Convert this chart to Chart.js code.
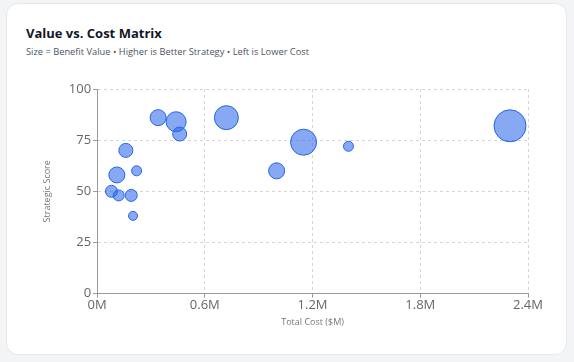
<!DOCTYPE html>
<html>
<head>
<meta charset="utf-8">
<script src="https://cdn.jsdelivr.net/npm/chart.js@4.4.1/dist/chart.umd.min.js"></script>
<style>
  html, body { margin: 0; padding: 0; background: #f3f4f6; width: 574px; height: 362px; overflow: hidden; }
  .card {
    position: absolute; left: 6px; top: 3px; width: 561px; height: 352px;
    background: #fff; border: 1px solid #e6e8ec; border-radius: 12px; box-sizing: border-box;
    font-family: "Open Sans", sans-serif;
  }
  .card h3 { position: absolute; left: 19px; top: 20px; margin: 0; font-size: 13px; font-weight: 700; color: #111827; }
  .card p { position: absolute; left: 19px; top: 41px; margin: 0; font-size: 9.3px; color: #4b5563; }
  .wrap { position: absolute; left: 31px; top: 68px; width: 507px; height: 260px; }
</style>
</head>
<body>
<div class="card">
  <h3>Value vs. Cost Matrix</h3>
  <p>Size = Benefit Value • Higher is Better Strategy • Left is Lower Cost</p>
  <div class="wrap"><canvas id="matrix"></canvas></div>
</div>
<script>
// total cost in dollars, strategic score 0-100, bubble radius from benefit value
const costs = [340000, 440000, 460000, 720000, 160000, 110000, 220000, 80000, 120000, 190000, 200000, 1000000, 1150000, 1400000, 2300000];
const scores = [86, 84, 78, 86, 70, 58, 60, 50, 48, 48, 38, 60, 74, 72, 82];
const benefitRadius = [8, 10, 7, 12, 7, 8, 5, 6, 5.5, 6, 4.5, 8, 13, 5, 16];
const xTicks = [0, 600000, 1200000, 1800000, 2400000];

const points = costs.map((c, i) => ({ x: c, y: scores[i], r: benefitRadius[i] }));

new Chart(document.getElementById("matrix"), {
  type: "bubble",
  data: {
    datasets: [{
      data: points,
      backgroundColor: "rgba(37, 99, 235, 0.55)",
      borderColor: "#2563eb",
      borderWidth: 1
    }]
  },
  options: {
    responsive: true,
    maintainAspectRatio: false,
    animation: false,
    layout: { padding: { top: 6, right: 6 } },
    plugins: { legend: { display: false }, tooltip: { enabled: false } },
    scales: {
      x: {
        type: "linear",
        min: 0,
        max: 2400000,
        afterBuildTicks: (axis) => { axis.ticks = xTicks.map((v) => ({ value: v })); },
        ticks: {
          color: "#666",
          font: { family: "Open Sans", size: 13 },
          padding: 0,
          callback: (v) => (v / 1000000) + "M"
        },
        grid: { color: "#d4d4d4", tickLength: 4, tickColor: "#999" },
        border: { display: true, color: "#999", dash: [3, 3] },
        title: { display: true, text: "Total Cost ($M)", color: "#777", font: { family: "Open Sans", size: 9 }, padding: { top: 4 } }
      },
      y: {
        min: 0,
        max: 100,
        ticks: { stepSize: 25, color: "#666", font: { family: "Open Sans", size: 13 }, padding: 2 },
        grid: { color: "#d4d4d4", tickLength: 4, tickColor: "#999" },
        border: { display: true, color: "#999", dash: [3, 3] },
        title: { display: true, text: "Strategic Score", color: "#777", font: { family: "Open Sans", size: 9 }, padding: { bottom: 14 } }
      }
    }
  }
});
</script>
</body>
</html>
